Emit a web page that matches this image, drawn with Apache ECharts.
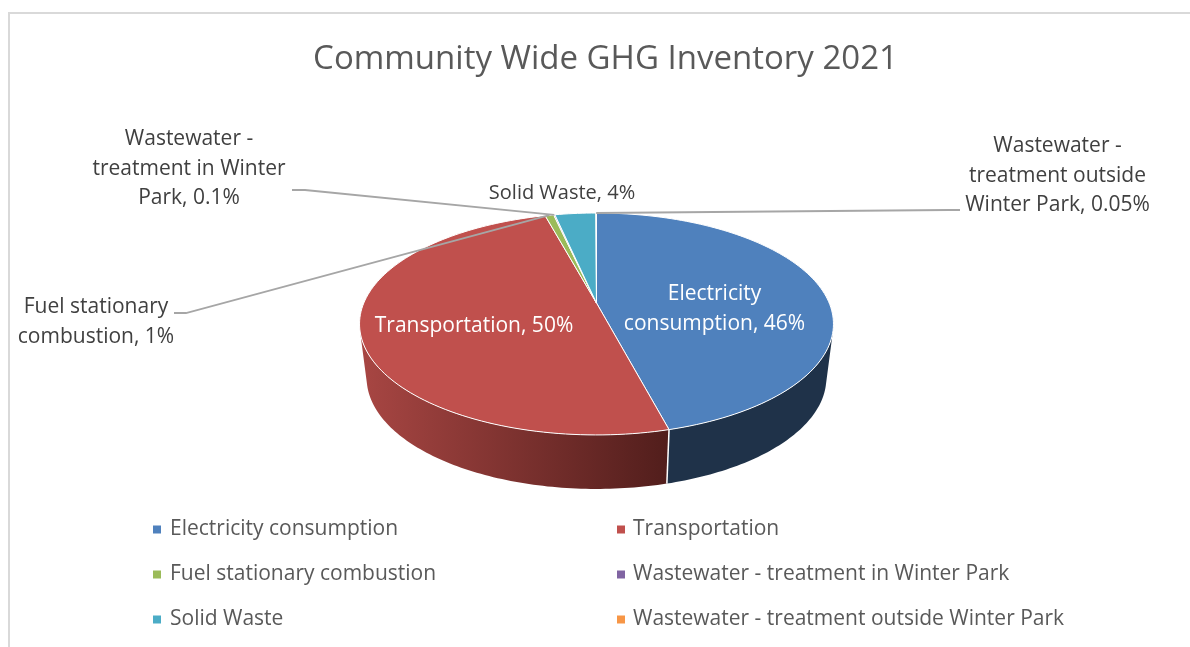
<!DOCTYPE html>
<html>
<head>
<meta charset="utf-8">
<style>html,body{margin:0;padding:0;background:#fff}#c{width:1190px;height:647px}</style>
<script src="https://cdn.jsdelivr.net/npm/echarts@6/dist/echarts.min.js"></script>
</head>
<body>
<div id="c"></div>
<script>
var categories = ['Electricity consumption','Transportation','Fuel stationary combustion','Wastewater - treatment in Winter Park','Solid Waste','Wastewater - treatment outside Winter Park'];
var shares = [45.9, 49.9, 0.7, 0.1, 3.35, 0.05];
var sliceLabels = ['Electricity\nconsumption, 46%','Transportation, 50%','Fuel stationary\ncombustion, 1%','Wastewater -\ntreatment in Winter\nPark, 0.1%','Solid Waste, 4%','Wastewater -\ntreatment outside\nWinter Park, 0.05%'];
var colors = ['#4F81BD','#C0504D','#9BBB59','#8064A2','#4BACC6','#F79646'];

var FONT = '"Open Sans", sans-serif';
var total = shares.reduce(function(a,b){return a+b;},0);
var starts = []; (function(){var s=0;shares.forEach(function(v){starts.push(s);s+=v;});})();
var wallColors = [
  ['#1F3249','#1F3249'], ['#A84643','#521E1C'], ['#6A7F3D','#6A7F3D'],
  ['#584570','#584570'], ['#337688','#337688'], ['#A96730','#A96730']
];
// perspective projection of the pie's disc
var AX = 596.5, AY = 303, A = 232.7, B = 107, P = 0.189, DROP = 54, SHRINK = 0.97;
var WALL_R = 105, WALL_L = 255; // rim angles where the wall's silhouette edge leaves the top face
function rim(deg, lower){
  var t = deg*Math.PI/180, w = 1 + P*Math.cos(t);
  var u = A*Math.sin(t)/w, v = -B*Math.cos(t)/w;
  return lower ? [AX + u*SHRINK, AY + v + DROP] : [AX + u, AY + v];
}
function angle(share){ return share/total*360; }

function sliceRender(i){
  return function(params, api){
    var a0 = angle(api.value(0)), a1 = a0 + angle(api.value(1));
    var color = api.visual('color');
    var children = [];
    var w0 = Math.max(a0, WALL_R), w1 = Math.min(a1, WALL_L);
    if (w1 > w0){
      var n = Math.ceil(w1-w0), k, up = [], low = [];
      for (k=0;k<=n;k++){
        var d = w0+(w1-w0)*k/n;
        up.push(rim(d,false)); low.unshift(rim(d,true));
      }
      var fillWall = new echarts.graphic.LinearGradient(360,0,667,0,[{offset:0,color:wallColors[i][0]},{offset:1,color:wallColors[i][1]}],true);
      children.push({type:'polygon',shape:{points:up.concat(low)},style:{fill:fillWall}});
      if (a0 >= WALL_R && a0 <= WALL_L) children.push({type:'line',shape:{x1:rim(a0,false)[0],y1:rim(a0,false)[1],x2:rim(a0,true)[0],y2:rim(a0,true)[1]},style:{stroke:'#fff',lineWidth:1.5}});
    }
    var pts = [[AX,AY]], m = Math.max(2,Math.ceil((a1-a0)/1.5));
    for (var j=0;j<=m;j++){ pts.push(rim(a0+(a1-a0)*j/m,false)); }
    children.push({type:'polygon',shape:{points:pts},style:{fill:color,stroke:'#fff',lineWidth:1}});
    return {type:'group',children:children};
  };
}

// label placement: [centre x, centre y, colour, leader knee points, font size]
var labelPlace = [
  [714.5,309,'#ffffff',null,21],
  [474,326,'#ffffff',null,21],
  [96,322,'#404040',[[174,313],[186,313]],21],
  [189,169,'#404040',[[292,190],[305,190]],21],
  [562,193,'#404040',null,20],
  [1057.5,176,'#404040',[[960,210],[948,210]],21]
];
function labelRender(params, api){
  var i = api.value(0), pl = labelPlace[i], ch = [];
  if (pl[3]){
    var mid = angle(starts[i]+shares[i]/2);
    ch.push({type:'polyline',shape:{points:pl[3].concat([rim(mid,false)])},style:{fill:null,stroke:'#A6A6A6',lineWidth:1.8}});
  }
  ch.push({type:'text',x:pl[0],y:pl[1],style:{text:sliceLabels[i],fill:pl[2],font:pl[4]+'px '+FONT,align:'center',verticalAlign:'middle',lineHeight:29.5}});
  return {type:'group',children:ch};
}

var series = categories.map(function(name,i){
  return {type:'custom',name:name,coordinateSystem:'none',silent:true,animation:false,
    itemStyle:{color:colors[i]},renderItem:sliceRender(i),data:[[starts[i],shares[i]]],z:2};
});
series.push({type:'custom',coordinateSystem:'none',silent:true,animation:false,renderItem:labelRender,
  data:categories.map(function(c,i){return [i];}),z:5});

var legendPos = [[148,514],[612,514],[148,559],[612,559],[148,604],[612,604]];
var legends = categories.map(function(name,i){
  return {data:[name],left:legendPos[i][0],top:legendPos[i][1],icon:'rect',itemWidth:8,itemHeight:8,selectedMode:false,
    textStyle:{fontFamily:FONT,fontSize:21,color:'#595959',padding:[0,0,0,i%2?3:4]}};
});

var chart = echarts.init(document.getElementById('c'),null,{renderer:'canvas'});
chart.setOption({
  animation:false,backgroundColor:'#fff',
  title:{text:'Community Wide GHG Inventory 2021',left:600.5,top:38,textAlign:'center',
    textStyle:{fontFamily:FONT,fontSize:33,fontWeight:'normal',color:'#595959'}},
  legend:legends,
  graphic:[{type:'polyline',shape:{points:[[9,647],[9,13],[1190,13]]},style:{fill:null,stroke:'#D9D9D9',lineWidth:2},silent:true}],
  series:series
});
</script>
</body>
</html>
